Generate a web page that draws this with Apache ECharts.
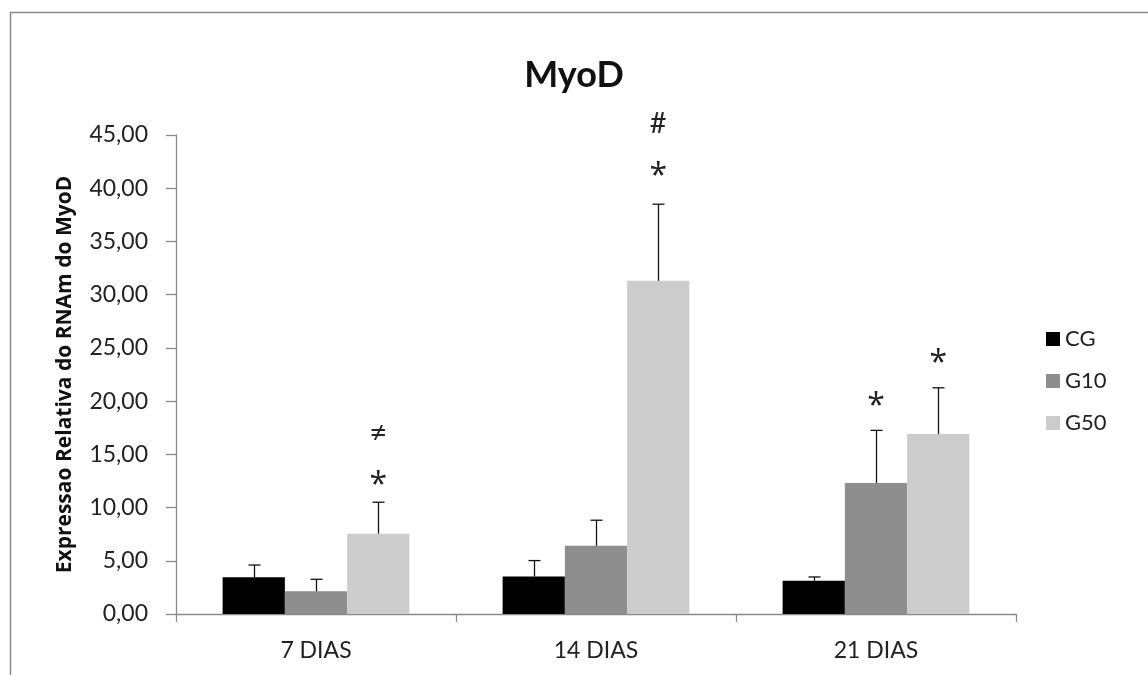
<!DOCTYPE html>
<html>
<head>
<meta charset="utf-8">
<script src="https://cdn.jsdelivr.net/npm/echarts@6/dist/echarts.min.js"></script>
<style>
html,body{margin:0;padding:0;background:#fff;}
#chart{width:1148px;height:675px;}
</style>
</head>
<body>
<div id="chart"></div>
<script>
const categories = ['7 DIAS', '14 DIAS', '21 DIAS'];
const seriesNames = ['CG', 'G10', 'G50'];
const cgMean = [3.45, 3.52, 3.13];
const cgErr = [1.15, 1.5, 0.35];
const g10Mean = [2.13, 6.41, 12.3];
const g10Err = [1.13, 2.4, 4.95];
const g50Mean = [7.55, 31.3, 16.9];
const g50Err = [2.95, 7.2, 4.35];
const yTicksMin = 0, yTicksMax = 45, yTicksStep = 5;
const annotCat = [0, 0, 1, 1, 2, 2];
const annotGroup = [2, 2, 2, 2, 1, 2];
const annotY = [12.9, 17.0, 41.9, 46.05, 20.3, 24.3];
const annotText = ['*', '≠', '*', '#', '*', '*'];

const colors = ['#000000', '#8e8e8e', '#cccccc'];
const FONT = 'Lato';
const means = [cgMean, g10Mean, g50Mean];
const errs = [cgErr, g10Err, g50Err];

const chart = echarts.init(document.getElementById('chart'), null, {renderer: 'canvas'});

function groupOffset(api, g) {
  const band = api.size([1, 0])[0];
  return (g - 1) * band * (2 / 3) / 3;
}

const barSeries = seriesNames.map((name, i) => ({
  name: name,
  type: 'bar',
  data: means[i],
  barGap: '0%',
  barCategoryGap: '33.3%',
  itemStyle: {color: colors[i]},
  z: 2
}));

const errData = [];
for (let g = 0; g < 3; g++) {
  for (let c = 0; c < categories.length; c++) {
    errData.push([c, means[g][c], means[g][c] + errs[g][c], g]);
  }
}

const errSeries = {
  type: 'custom',
  name: 'err',
  z: 5,
  silent: true,
  data: errData,
  encode: {x: 0, y: [1, 2]},
  renderItem: function (params, api) {
    const c = api.value(0), g = api.value(3);
    const off = groupOffset(api, g);
    const p1 = api.coord([c, api.value(1)]);
    const p2 = api.coord([c, api.value(2)]);
    const x = Math.round(p1[0] + off) + 0.5;
    const st = {stroke: '#111', lineWidth: 1.3};
    return {
      type: 'group',
      children: [
        {type: 'line', shape: {x1: x, y1: p1[1], x2: x, y2: p2[1]}, style: st},
        {type: 'line', shape: {x1: x - 6, y1: p2[1], x2: x + 6, y2: p2[1]}, style: st}
      ]
    };
  }
};

const annotData = annotCat.map((c, i) => [c, annotY[i], annotGroup[i], i]);
const annotSeries = {
  type: 'custom',
  name: 'annot',
  z: 6,
  silent: true,
  clip: false,
  data: annotData,
  encode: {x: 0, y: 1},
  renderItem: function (params, api) {
    const c = api.value(0), g = api.value(2), idx = api.value(3);
    const p = api.coord([c, api.value(1)]);
    const t = annotText[idx];
    const big = t === '*';
    return {
      type: 'text',
      x: p[0] + groupOffset(api, g),
      y: p[1] + (big ? 9 : 0),
      style: {
        text: t,
        fontFamily: big ? 'Open Sans' : FONT,
        fontSize: big ? 32 : (t === '#' ? 29 : 31),
        fill: '#222',
        align: 'center',
        verticalAlign: 'middle'
      }
    };
  }
};

const option = {
  animation: false,
  backgroundColor: '#ffffff',
  graphic: [{
    type: 'rect',
    shape: {x: 10.5, y: 12.5, width: 1300, height: 800},
    style: {fill: 'none', stroke: '#8a8a8a', lineWidth: 1.5},
    z: -1
  }],
  title: {
    text: 'MyoD',
    left: 'center',
    top: 52,
    textStyle: {fontFamily: FONT, fontWeight: 'bold', fontSize: 36, color: '#111'}
  },
  legend: {
    data: seriesNames,
    orient: 'vertical',
    left: 1041,
    top: 323,
    itemWidth: 14,
    itemHeight: 14,
    itemGap: 20,
    icon: 'rect',
    textStyle: {fontFamily: FONT, fontSize: 22, color: '#222', lineHeight: 22}
  },
  grid: {left: 176, right: 132, top: 135, bottom: 61, containLabel: false},
  xAxis: {
    type: 'category',
    data: categories,
    axisLine: {lineStyle: {color: '#8a8a8a', width: 1.3}},
    axisTick: {show: true, length: 8, lineStyle: {color: '#8a8a8a', width: 1.3}},
    axisLabel: {fontFamily: FONT, fontSize: 23, color: '#222', margin: 25}
  },
  yAxis: {
    type: 'value',
    min: yTicksMin,
    max: yTicksMax,
    interval: yTicksStep,
    name: 'Expressao Relativa do RNAm do MyoD',
    nameLocation: 'middle',
    nameRotate: 90,
    nameGap: 100,
    nameTextStyle: {fontFamily: 'Open Sans', fontWeight: 'bold', fontSize: 21, color: '#111'},
    splitLine: {show: false},
    axisLine: {show: true, lineStyle: {color: '#8a8a8a', width: 1.3}},
    axisTick: {show: true, length: 10, lineStyle: {color: '#8a8a8a', width: 1.3}},
    axisLabel: {
      fontFamily: FONT, fontSize: 23, color: '#222', margin: 28,
      formatter: v => v.toFixed(2).replace('.', ',')
    }
  },
  series: barSeries.concat([errSeries, annotSeries])
};
chart.setOption(option);
</script>
</body>
</html>
